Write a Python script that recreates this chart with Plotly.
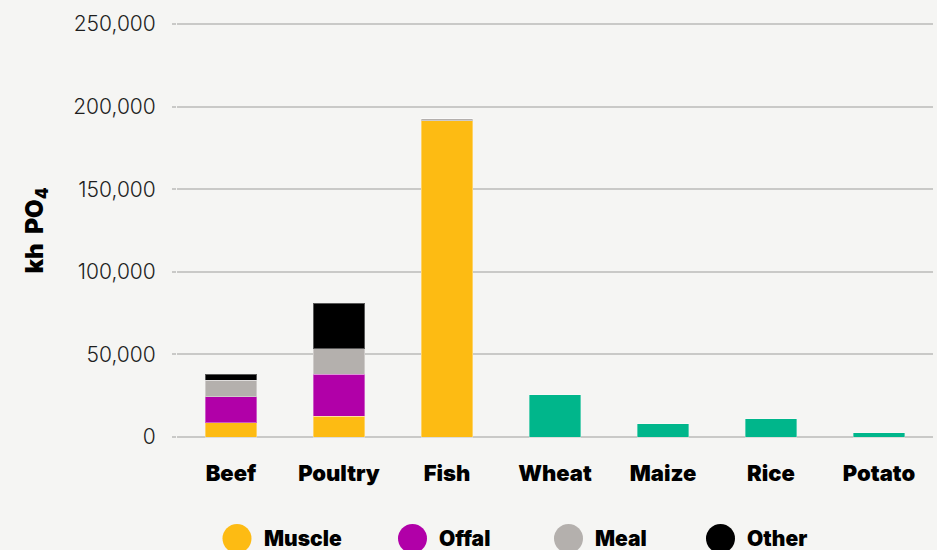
import plotly.graph_objects as go

# Phosphate-equivalent emissions per food group, split by carcass component
animals = ["Beef", "Poultry", "Fish"]
crops = ["Wheat", "Maize", "Rice", "Potato"]
categories = animals + crops

muscle = [8500, 12500, 191500]
offal = [16000, 25500, 0]
meal = [10000, 15300, 1000]
other = [3500, 27700, 0]
crop_values = [25700, 8000, 11200, 2500]

component_names = ["Muscle", "Offal", "Meal", "Other"]
component_colors = ["#fdbb13", "#b100a8", "#b4b0ad", "#000000"]
crop_color = "#00b68b"

y_ticks = [0, 50000, 100000, 150000, 200000, 250000]
y_tick_labels = ["0", "50,000", "100,000", "150,000", "200,000", "250,000"]

BG = "#f5f5f3"
GRID = "#c9c9c7"
BOLD_FONT = "Inter"
LIGHT_FONT = "Inter"

fig = go.Figure()

for name, vals, color in zip(component_names, [muscle, offal, meal, other], component_colors):
    fig.add_trace(go.Bar(
        x=animals, y=vals, name=name,
        marker=dict(color=color, line=dict(color="rgba(255,255,255,0.35)", width=1)),
        showlegend=False,
    ))

fig.add_trace(go.Bar(
    x=crops, y=crop_values, name="Crops",
    marker=dict(color=crop_color, line=dict(color="rgba(255,255,255,0.35)", width=1)),
    showlegend=False,
))

# Figure geometry (pixels); the y range is padded slightly so the edge gridlines show
W, H = 937, 550
ML, MR, MT, MB = 177, 4, 22, 111
plot_w = W - ML - MR
plot_h = H - MT - MB
units_per_px = 250000 / 413
y_lo = -2 * units_per_px
y_hi = 250000 + 2 * units_per_px


def paper_y(py):
    return (H - MB - py) / plot_h


legend_centers = [237, 412.5, 568.5, 720.5]
legend_cy = 538.5
radius = 14.5

shapes = []
annotations = []
for name, color, cx in zip(component_names, component_colors, legend_centers):
    shapes.append(dict(type="circle", xref="paper", yref="paper",
                       x0=(cx - radius - ML) / plot_w, x1=(cx + radius - ML) / plot_w,
                       y0=paper_y(legend_cy + radius), y1=paper_y(legend_cy - radius),
                       fillcolor=color, line=dict(width=0)))
    annotations.append(dict(
        text=name, xref="paper", yref="paper",
        x=(cx + radius + 10 - ML) / plot_w, y=paper_y(legend_cy),
        xanchor="left", yanchor="middle", showarrow=False,
        font=dict(family=BOLD_FONT, size=21, color="#000000", weight=900),
    ))

fig.update_layout(
    width=W, height=H,
    margin=dict(l=ML, r=MR, t=MT, b=MB),
    paper_bgcolor=BG, plot_bgcolor=BG,
    barmode="stack", bargap=0.52,
    shapes=shapes, annotations=annotations,
    showlegend=False,
)

fig.update_xaxes(
    categoryorder="array", categoryarray=categories,
    showgrid=False, showline=False, zeroline=False,
    ticks="", ticklabelstandoff=19,
    tickfont=dict(family=BOLD_FONT, size=22, color="#000000", weight=900),
)

fig.update_yaxes(
    range=[y_lo, y_hi],
    tickvals=y_ticks, ticktext=y_tick_labels,
    showgrid=True, gridcolor=GRID, gridwidth=2,
    zeroline=False, showline=False,
    ticks="outside", ticklen=4, tickcolor=GRID, tickwidth=2,
    ticklabelstandoff=12,
    tickfont=dict(family=LIGHT_FONT, size=21, color="#1e1e1e", weight=300),
    title=dict(text="kh  PO<sub>4</sub>", standoff=22,
               font=dict(family=BOLD_FONT, size=24, color="#000000", weight=900)),
)

fig.write_html("out.html")
